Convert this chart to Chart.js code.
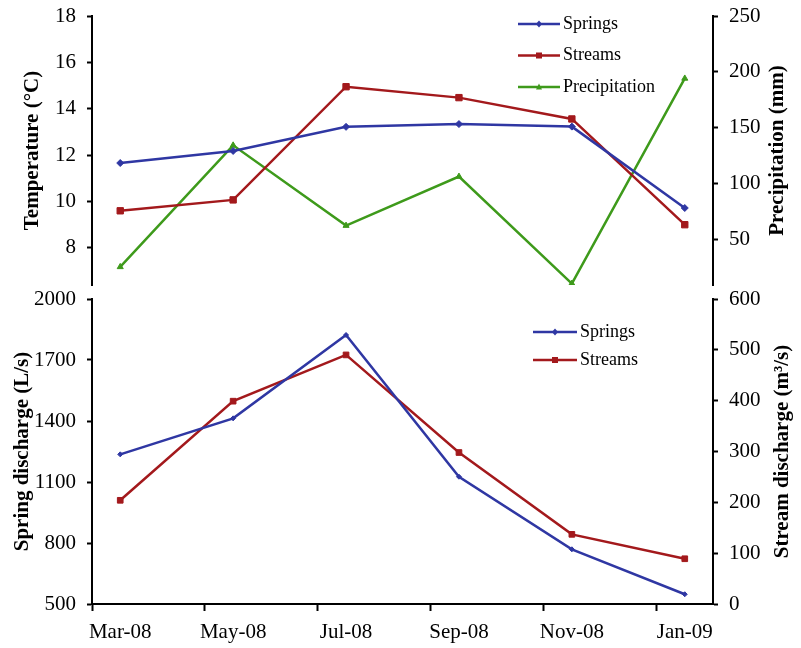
<!DOCTYPE html>
<html>
<head>
<meta charset="utf-8">
<script src="https://cdn.jsdelivr.net/npm/chart.js@4.4.1/dist/chart.umd.min.js"></script>
<style>
  body { margin: 0; background: #fff; }
  #wrap { position: relative; width: 801px; height: 648px; background: #fff; }
  canvas { position: absolute; left: 0; }
  #top-chart { top: 0; }
  #bottom-chart { top: 280px; }
</style>
</head>
<body>
<div id="wrap">
  <canvas id="top-chart" width="801" height="300"></canvas>
  <canvas id="bottom-chart" width="801" height="368"></canvas>
</div>
<script>
// Sampling months (every two months)
const months = ['Mar-08', 'May-08', 'Jul-08', 'Sep-08', 'Nov-08', 'Jan-09'];

// Top panel: water temperature (°C) and precipitation (mm)
const springTemp = [11.66, 12.18, 13.22, 13.34, 13.23, 9.72];
const streamTemp = [9.6, 10.07, 14.95, 14.48, 13.56, 9.0];
const precipitation = [25, 134, 62, 106, 10, 194];

// Bottom panel: discharge
const springDischarge = [1236, 1413, 1823, 1126, 769, 548];   // L/s
const streamDischarge = [204, 399, 490, 298, 137, 89];        // m3/s

// Tick labels
const tempTicks = [8, 10, 12, 14, 16, 18];
const precipTicks = [50, 100, 150, 200, 250];
const springQTicks = [500, 800, 1100, 1400, 1700, 2000];
const streamQTicks = [0, 100, 200, 300, 400, 500, 600];

const BLUE = '#2f37a3';
const RED = '#a3191c';
const GREEN = '#3e9a1b';
const FONT = '"Liberation Serif", "Times New Roman", serif';

Chart.defaults.font.family = FONT;
Chart.defaults.color = '#000';

const toXY = arr => arr.map((v, i) => ({ x: i, y: v }));

// marker + line legend drawn at a fixed spot inside the plot
const markerLegend = {
  id: 'markerLegend',
  afterDraw(chart, args, opts) {
    const ctx = chart.ctx;
    chart.data.datasets.forEach((ds, i) => {
      const y = opts.y + i * opts.gap;
      const cx = opts.x + opts.len / 2;
      ctx.save();
      ctx.strokeStyle = ds.borderColor;
      ctx.fillStyle = ds.borderColor;
      ctx.lineWidth = ds.borderWidth;
      ctx.beginPath();
      ctx.moveTo(opts.x, y);
      ctx.lineTo(opts.x + opts.len, y);
      ctx.stroke();
      const r = opts.radius;
      ctx.beginPath();
      if (ds.pointStyle === 'rect') {
        ctx.rect(cx - r, y - r, 2 * r, 2 * r);
      } else if (ds.pointStyle === 'triangle') {
        ctx.moveTo(cx, y - r * 1.2);
        ctx.lineTo(cx + r, y + r * 0.8);
        ctx.lineTo(cx - r, y + r * 0.8);
        ctx.closePath();
      } else {
        ctx.moveTo(cx, y - r * 1.2);
        ctx.lineTo(cx + r, y);
        ctx.lineTo(cx, y + r * 1.2);
        ctx.lineTo(cx - r, y);
        ctx.closePath();
      }
      ctx.fill();
      ctx.font = '18px ' + FONT;
      ctx.fillStyle = '#000';
      ctx.textAlign = 'left';
      ctx.textBaseline = 'middle';
      ctx.fillText(ds.label, opts.x + opts.len + 3, y);
      ctx.restore();
    });
  }
};

// right-hand axis titles read bottom-to-top like the left ones
const sideTitles = {
  id: 'sideTitles',
  afterDraw(chart, args, opts) {
    const ctx = chart.ctx;
    (opts.items || []).forEach(item => {
      const s = chart.scales[item.scale];
      ctx.save();
      ctx.translate(item.x, (s.top + s.bottom) / 2);
      ctx.rotate(-Math.PI / 2);
      ctx.font = 'bold 21px ' + FONT;
      ctx.fillStyle = '#000';
      ctx.textAlign = 'center';
      ctx.textBaseline = 'middle';
      ctx.fillText(s.options.title.text, 0, 0);
      ctx.restore();
    });
  }
};

const yAxis = (side, min, max, ticks, title, titlePad) => ({
  position: side,
  min: min,
  max: max,
  afterBuildTicks: s => { s.ticks = ticks.map(v => ({ value: v })); },
  afterFit: s => {
    s.width = side === 'left' ? 92 : 88;
    s.paddingTop = 0;
    s.paddingBottom = 0;
  },
  border: { display: true, color: '#000', width: 2 },
  grid: { display: true, drawOnChartArea: false, tickLength: 5, tickWidth: 2, tickColor: '#000' },
  ticks: { padding: 11, font: { size: 21 }, color: '#000', callback: v => String(v) },
  title: {
    display: side === 'left',
    text: title,
    color: '#000',
    font: { size: 21, weight: 'bold' },
    padding: { top: titlePad, bottom: 0 }
  }
});

const lineSet = (label, values, color, style, radius, axis) => ({
  label: label,
  data: toXY(values),
  yAxisID: axis,
  borderColor: color,
  backgroundColor: color,
  pointBackgroundColor: color,
  pointBorderColor: color,
  borderWidth: 2.5,
  pointBorderWidth: 1,
  pointStyle: style,
  pointRadius: radius,
  tension: 0
});

const baseOptions = {
  responsive: false,
  animation: false,
  devicePixelRatio: 1,
  events: []
};

// Top chart: temperature + precipitation
new Chart(document.getElementById('top-chart'), {
  type: 'line',
  data: {
    datasets: [
      lineSet('Springs', springTemp, BLUE, 'rectRot', 3.5, 'y'),
      lineSet('Streams', streamTemp, RED, 'rect', 4.5, 'y'),
      lineSet('Precipitation', precipitation, GREEN, 'triangle', 3.5, 'y1')
    ]
  },
  options: {
    ...baseOptions,
    layout: { padding: { top: 16, bottom: 15, left: 0, right: 0 } },
    scales: {
      x: { type: 'linear', min: -0.25, max: 5.25, display: false },
      y: yAxis('left', 6.4, 18, tempTicks, 'Temperature (°C)', 20),
      y1: yAxis('right', 8.75, 250, precipTicks, 'Precipitation (mm)', 0)
    },
    plugins: {
      legend: { display: false },
      tooltip: { enabled: false },
      markerLegend: { x: 518, y: 24, gap: 31.5, len: 42, radius: 3 },
      sideTitles: { items: [{ scale: 'y1', x: 778 }] }
    }
  },
  plugins: [markerLegend, sideTitles]
});

// Bottom chart: discharge
new Chart(document.getElementById('bottom-chart'), {
  type: 'line',
  data: {
    datasets: [
      lineSet('Springs', springDischarge, BLUE, 'rectRot', 2.5, 'y'),
      lineSet('Streams', streamDischarge, RED, 'rect', 4, 'y1')
    ]
  },
  options: {
    ...baseOptions,
    layout: { padding: { top: 19, bottom: 0, left: 0, right: 0 } },
    scales: {
      x: {
        type: 'linear',
        min: -0.25,
        max: 5.25,
        afterBuildTicks: s => {
          s.ticks = months.flatMap((m, i) => [i - 0.25, i]).map(v => ({ value: v }));
        },
        afterFit: s => { s.height = 44; s.paddingLeft = 0; s.paddingRight = 0; },
        border: { display: true, color: '#000', width: 2 },
        grid: {
          display: true,
          drawOnChartArea: false,
          tickLength: 7,
          tickWidth: 2,
          tickColor: c => (c.tick && Number.isInteger(c.tick.value)) ? 'rgba(0,0,0,0)' : '#000'
        },
        ticks: {
          autoSkip: false,
          maxRotation: 0,
          minRotation: 0,
          padding: 9,
          font: { size: 21 },
          color: '#000',
          callback: v => Number.isInteger(v) ? months[v] : ''
        }
      },
      y: yAxis('left', 500, 2000, springQTicks, 'Spring discharge (L/s)', 10),
      y1: yAxis('right', 0, 600, streamQTicks, 'Stream discharge (m³/s)', 0)
    },
    plugins: {
      legend: { display: false },
      tooltip: { enabled: false },
      markerLegend: { x: 533, y: 52, gap: 28, len: 44, radius: 3 },
      sideTitles: { items: [{ scale: 'y1', x: 783 }] }
    }
  },
  plugins: [markerLegend, sideTitles]
});
</script>
</body>
</html>
